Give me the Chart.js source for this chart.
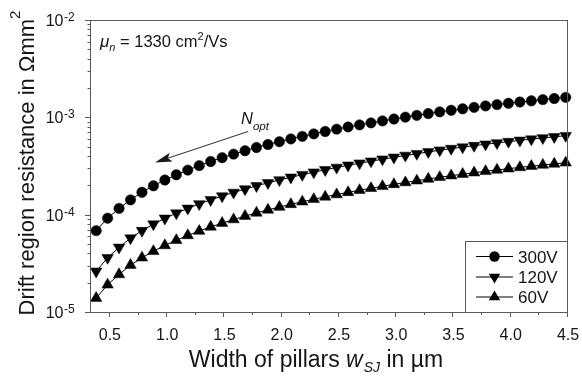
<!DOCTYPE html>
<html>
<head>
<meta charset="utf-8">
<script src="https://cdn.jsdelivr.net/npm/chart.js@4.4.1/dist/chart.umd.min.js"></script>
<style>
  body { margin: 0; background: #fff; }
  canvas { display: block; }
</style>
</head>
<body>
<canvas id="resistanceChart" width="582" height="380"></canvas>
<script>
// Pillar width in µm
const pillarWidths = [0.38, 0.48, 0.58, 0.68, 0.78, 0.88, 0.98, 1.08, 1.18, 1.28,
  1.38, 1.48, 1.58, 1.68, 1.78, 1.88, 1.98, 2.08, 2.18, 2.28,
  2.38, 2.48, 2.58, 2.68, 2.78, 2.88, 2.98, 3.08, 3.18, 3.28,
  3.38, 3.48, 3.58, 3.68, 3.78, 3.88, 3.98, 4.08, 4.18, 4.28,
  4.38, 4.48];

// Drift region resistance in Ohm mm^2
const r300V = [6.85e-5, 9.20e-5, 1.16e-4, 1.42e-4, 1.70e-4, 1.98e-4, 2.27e-4, 2.57e-4, 2.87e-4, 3.19e-4,
  3.52e-4, 3.85e-4, 4.19e-4, 4.54e-4, 4.90e-4, 5.26e-4, 5.62e-4, 6.00e-4, 6.38e-4, 6.76e-4,
  7.16e-4, 7.56e-4, 7.97e-4, 8.37e-4, 8.78e-4, 9.19e-4, 9.62e-4, 1.005e-3, 1.048e-3, 1.093e-3,
  1.138e-3, 1.182e-3, 1.224e-3, 1.267e-3, 1.310e-3, 1.352e-3, 1.394e-3, 1.437e-3, 1.478e-3, 1.521e-3,
  1.562e-3, 1.604e-3];
const r120V = [2.62e-5, 3.61e-5, 4.61e-5, 5.74e-5, 6.85e-5, 7.99e-5, 9.16e-5, 1.036e-4, 1.160e-4, 1.288e-4,
  1.420e-4, 1.553e-4, 1.691e-4, 1.832e-4, 1.977e-4, 2.123e-4, 2.271e-4, 2.421e-4, 2.574e-4, 2.731e-4,
  2.891e-4, 3.052e-4, 3.216e-4, 3.380e-4, 3.544e-4, 3.712e-4, 3.882e-4, 4.056e-4, 4.231e-4, 4.413e-4,
  4.594e-4, 4.772e-4, 4.941e-4, 5.115e-4, 5.289e-4, 5.458e-4, 5.628e-4, 5.801e-4, 5.967e-4, 6.140e-4,
  6.306e-4, 6.476e-4];
const r60V = [1.39e-5, 1.905e-5, 2.43e-5, 3.03e-5, 3.61e-5, 4.21e-5, 4.83e-5, 5.46e-5, 6.12e-5, 6.79e-5,
  7.49e-5, 8.19e-5, 8.92e-5, 9.67e-5, 1.043e-4, 1.120e-4, 1.198e-4, 1.277e-4, 1.358e-4, 1.440e-4,
  1.525e-4, 1.610e-4, 1.696e-4, 1.782e-4, 1.869e-4, 1.958e-4, 2.048e-4, 2.139e-4, 2.232e-4, 2.327e-4,
  2.423e-4, 2.517e-4, 2.606e-4, 2.698e-4, 2.789e-4, 2.879e-4, 2.968e-4, 3.060e-4, 3.147e-4, 3.239e-4,
  3.326e-4, 3.415e-4];

const seriesLabels = ['300V', '120V', '60V'];
const xTickLabels = ['0.5', '1.0', '1.5', '2.0', '2.5', '3.0', '3.5', '4.0', '4.5'];
const xMinorTicks = [0.75, 1.25, 1.75, 2.25, 2.75, 3.25, 3.75, 4.25];
const yExponents = [-5, -4, -3, -2];

const FONT = '"Liberation Sans", Arial, Helvetica, sans-serif';
const INK = '#151515';
const FRAME = '#5a5a5a';

const toPoints = ys => pillarWidths.map((x, i) => ({ x: x, y: ys[i] }));

const markerStyles = [
  { pointStyle: 'circle', radius: 5.2, rotation: 0 },
  { pointStyle: 'triangle', radius: 6.6, rotation: 180 },
  { pointStyle: 'triangle', radius: 6.6, rotation: 0 }
];

function makeDataset(label, values, marker) {
  return {
    label: label,
    data: toPoints(values),
    borderColor: '#000',
    backgroundColor: '#000',
    borderWidth: 1,
    pointStyle: marker.pointStyle,
    pointRadius: marker.radius,
    pointRotation: marker.rotation,
    pointBorderWidth: 0.5,
    pointBorderColor: '#000',
    pointBackgroundColor: '#000',
    tension: 0,
    clip: 8
  };
}

// writes a run of text pieces (normal / italic / sub / sup) starting at x
function drawRuns(ctx, runs, x, y) {
  let cx = x;
  runs.forEach(r => {
    ctx.font = (r.italic ? 'italic ' : '') + r.size + 'px ' + FONT;
    ctx.fillText(r.text, cx, y + (r.dy || 0));
    cx += ctx.measureText(r.text).width + (r.gap || 0);
  });
  return cx - x;
}

function measureRuns(ctx, runs) {
  let w = 0;
  runs.forEach(r => {
    ctx.font = (r.italic ? 'italic ' : '') + r.size + 'px ' + FONT;
    w += ctx.measureText(r.text).width + (r.gap || 0);
  });
  return w;
}

const framePlugin = {
  id: 'frameAndLabels',
  afterDraw(chart) {
    const ctx = chart.ctx;
    const area = chart.chartArea;
    const xs = chart.scales.x;
    const ys = chart.scales.y;
    ctx.save();

    // plot frame
    ctx.strokeStyle = FRAME;
    ctx.lineWidth = 1;
    ctx.strokeRect(area.left - 0.5, area.top + 0.5, area.right - area.left, area.bottom - area.top);

    // x ticks
    ctx.beginPath();
    xTickLabels.forEach(t => {
      const px = Math.round(xs.getPixelForValue(parseFloat(t))) - 0.5;
      ctx.moveTo(px, area.bottom);
      ctx.lineTo(px, area.bottom + 5);
    });
    xMinorTicks.forEach(t => {
      const px = Math.round(xs.getPixelForValue(t)) - 0.5;
      ctx.moveTo(px, area.bottom);
      ctx.lineTo(px, area.bottom + 3);
    });
    // y ticks, decades and 2..9 in between
    yExponents.forEach((e, i) => {
      const py = Math.round(ys.getPixelForValue(Math.pow(10, e))) + 0.5;
      ctx.moveTo(area.left, py);
      ctx.lineTo(area.left - 6, py);
      if (i < yExponents.length - 1) {
        for (let m = 2; m <= 9; m++) {
          const pm = Math.round(ys.getPixelForValue(m * Math.pow(10, e))) + 0.5;
          ctx.moveTo(area.left, pm);
          ctx.lineTo(area.left - 3.5, pm);
        }
      }
    });
    ctx.stroke();

    ctx.fillStyle = INK;
    ctx.textBaseline = 'alphabetic';

    // x tick labels
    ctx.textAlign = 'center';
    ctx.font = '16px ' + FONT;
    xTickLabels.forEach(t => {
      ctx.fillText(t, xs.getPixelForValue(parseFloat(t)), 340);
    });

    // y tick labels as powers of ten
    yExponents.forEach(e => {
      const py = ys.getPixelForValue(Math.pow(10, e));
      ctx.textAlign = 'right';
      ctx.font = '16px ' + FONT;
      ctx.fillText('10', 63.5, py + 6);
      ctx.textAlign = 'left';
      ctx.font = '12px ' + FONT;
      ctx.fillText('-' + Math.abs(e), 64, py + 1);
    });

    // x axis title
    ctx.textAlign = 'left';
    const xTitle = [
      { text: 'Width of pillars ', size: 23 },
      { text: 'w', size: 23, italic: true, gap: 1 },
      { text: 'SJ', size: 14, italic: true, dy: 5 },
      { text: ' in µm', size: 23 }
    ];
    const xw = measureRuns(ctx, xTitle);
    drawRuns(ctx, xTitle, 316 - xw / 2, 367);

    // y axis title, rotated
    const yTitle = [
      { text: 'Drift region resistance in Ωmm', size: 22 },
      { text: '2', size: 15, dy: -14 }
    ];
    const yw = measureRuns(ctx, yTitle);
    ctx.save();
    ctx.translate(33.5, 163 + yw / 2);
    ctx.rotate(-Math.PI / 2);
    drawRuns(ctx, yTitle, 0, 0);
    ctx.restore();

    // mobility note
    drawRuns(ctx, [
      { text: 'μ', size: 17, italic: true },
      { text: 'n', size: 11, italic: true, dy: 4 },
      { text: ' = 1330 cm', size: 16.5 },
      { text: '2', size: 11, dy: -7 },
      { text: '/Vs', size: 16.5 }
    ], 100, 47);

    // N_opt arrow
    drawRuns(ctx, [
      { text: 'N', size: 16.5, italic: true },
      { text: 'opt', size: 11.5, italic: true, dy: 6 }
    ], 241, 123.5);
    const tail = { x: 248, y: 131.5 };
    const tip = { x: 155, y: 162.5 };
    const dx = tail.x - tip.x, dy = tail.y - tip.y;
    const len = Math.hypot(dx, dy);
    const ux = dx / len, uy = dy / len;
    const hl = 17, hw = 4.5;
    ctx.strokeStyle = '#2a2a2a';
    ctx.lineWidth = 1;
    ctx.beginPath();
    ctx.moveTo(tail.x, tail.y);
    ctx.lineTo(tip.x + ux * hl * 0.8, tip.y + uy * hl * 0.8);
    ctx.stroke();
    ctx.fillStyle = '#1a1a1a';
    ctx.beginPath();
    ctx.moveTo(tip.x, tip.y);
    ctx.lineTo(tip.x + ux * hl - uy * hw, tip.y + uy * hl + ux * hw);
    ctx.lineTo(tip.x + ux * hl * 0.8, tip.y + uy * hl * 0.8);
    ctx.lineTo(tip.x + ux * hl + uy * hw, tip.y + uy * hl - ux * hw);
    ctx.closePath();
    ctx.fill();

    // legend box
    const box = { left: 465.5, top: 241.5, right: area.right - 0.5, bottom: area.bottom + 0.5 };
    ctx.fillStyle = '#fff';
    ctx.fillRect(box.left, box.top, box.right - box.left, box.bottom - box.top);
    ctx.strokeStyle = FRAME;
    ctx.strokeRect(box.left, box.top, box.right - box.left, box.bottom - box.top);
    const rows = [256, 276.5, 296.5];
    seriesLabels.forEach((label, i) => {
      const y = rows[i];
      ctx.strokeStyle = '#000';
      ctx.lineWidth = 1;
      ctx.beginPath();
      ctx.moveTo(476, y + 0.5);
      ctx.lineTo(513, y + 0.5);
      ctx.stroke();
      ctx.fillStyle = '#000';
      const m = markerStyles[i];
      Chart.helpers.drawPoint(ctx, {
        pointStyle: m.pointStyle,
        radius: m.radius,
        rotation: m.rotation,
        borderWidth: 0
      }, 494.5, y + 0.5);
      ctx.fillStyle = INK;
      ctx.textAlign = 'left';
      ctx.font = '17px ' + FONT;
      ctx.fillText(label, 518, y + 6.5);
    });

    ctx.restore();
  }
};

new Chart(document.getElementById('resistanceChart'), {
  type: 'line',
  data: {
    datasets: [
      makeDataset(seriesLabels[0], r300V, markerStyles[0]),
      makeDataset(seriesLabels[1], r120V, markerStyles[1]),
      makeDataset(seriesLabels[2], r60V, markerStyles[2])
    ]
  },
  options: {
    responsive: false,
    animation: false,
    layout: { padding: { left: 91, top: 20, right: 14, bottom: 68 } },
    plugins: {
      legend: { display: false },
      tooltip: { enabled: false }
    },
    scales: {
      x: { type: 'linear', min: 0.335, max: 4.5, display: false },
      y: { type: 'logarithmic', min: 1e-5, max: 1e-2, display: false }
    }
  },
  plugins: [framePlugin]
});
</script>
</body>
</html>
